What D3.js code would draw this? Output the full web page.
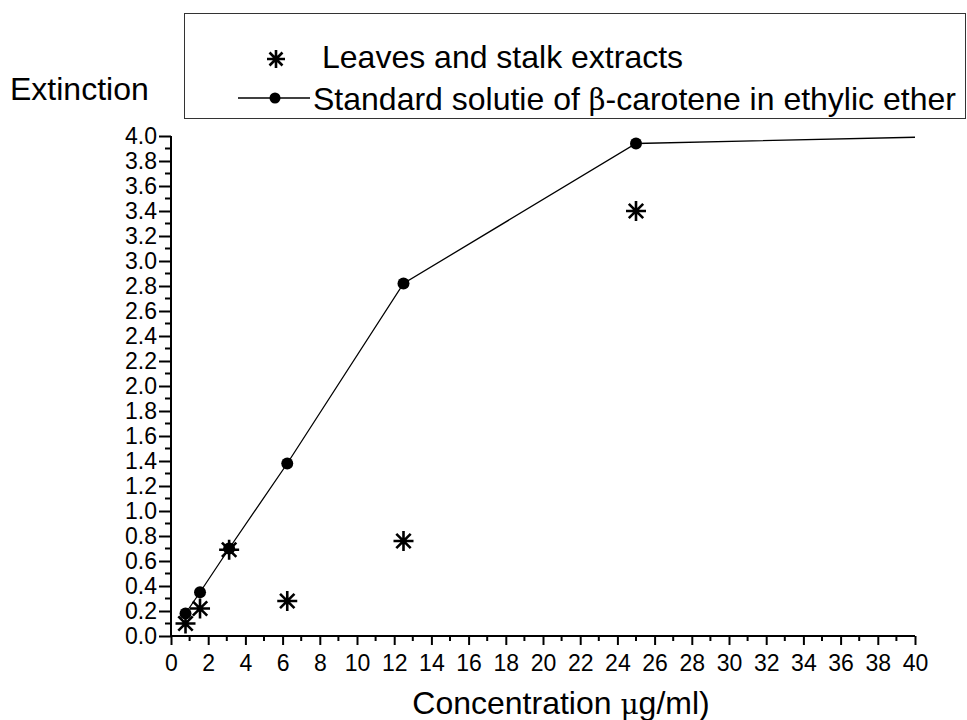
<!DOCTYPE html>
<html>
<head>
<meta charset="utf-8">
<script src="https://cdn.jsdelivr.net/npm/d3@7"></script>
<style>
  body { margin: 0; background: #fff; }
  svg { display: block; font-family: "Liberation Sans", Arial, sans-serif; }
</style>
</head>
<body>
<div class="chart-container"></div>
<script>
// standard solution of beta-carotene (line + dots)
var stdConc = [0.78, 1.56, 3.125, 6.25, 12.5, 25, 40];
var stdExt = [0.18, 0.35, 0.70, 1.38, 2.82, 3.94, 3.99];
var stdMarked = [true, true, true, true, true, true, false];

// leaves and stalk extracts (stars)
var leafConc = [0.78, 1.56, 3.125, 6.25, 12.5, 25];
var leafExt = [0.10, 0.22, 0.69, 0.28, 0.76, 3.40];

var xTicks = d3.range(0, 41, 2);
var yTicks = d3.range(0, 4.01, 0.2);

var legendLabels = ["Leaves and stalk extracts", "Standard solutie of \u03B2-carotene in ethylic ether"];

var width = 967, height = 720;
var margin = {top: 136, right: 52, bottom: 84, left: 171};

var svg = d3.select('.chart-container').append("svg")
    .attr("width", width)
    .attr("height", height);

var x = d3.scaleLinear().domain([0, 40]).range([margin.left, width - margin.right]);
var y = d3.scaleLinear().domain([0, 4]).range([height - margin.bottom, margin.top]);

// star marker: vertical, horizontal and two diagonals
function star(g, cx, cy, r) {
  var d = r * 0.72;
  var p = "M" + cx + "," + (cy - r) + "V" + (cy + r) +
          "M" + (cx - r) + "," + cy + "H" + (cx + r) +
          "M" + (cx - d) + "," + (cy - d) + "L" + (cx + d) + "," + (cy + d) +
          "M" + (cx - d) + "," + (cy + d) + "L" + (cx + d) + "," + (cy - d);
  g.append("path").attr("d", p).attr("stroke", "#000").attr("stroke-width", 2.6).attr("fill", "none");
}

// x axis
var xAxis = svg.append("g")
    .attr("transform", "translate(0," + y(0) + ")")
    .call(d3.axisBottom(x).tickValues(xTicks).tickSize(9).tickPadding(10).tickFormat(d3.format("d")));
xAxis.select(".domain").attr("stroke-width", 2).attr("d", "M" + x(0) + ",0H" + x(40));
xAxis.selectAll(".tick line").attr("stroke-width", 2);
xAxis.selectAll("text").attr("font-size", 23).attr("font-family", "Liberation Sans, Arial, sans-serif");
// minor x ticks
svg.append("g").selectAll("line")
    .data(d3.range(1, 40, 2))
    .enter().append("line")
    .attr("x1", function (d) { return x(d); })
    .attr("x2", function (d) { return x(d); })
    .attr("y1", y(0))
    .attr("y2", y(0) + 5)
    .attr("stroke", "#000")
    .attr("stroke-width", 2);

// y axis
var yAxis = svg.append("g")
    .attr("transform", "translate(" + x(0) + ",0)")
    .call(d3.axisLeft(y).tickValues(yTicks).tickSize(12).tickPadding(2).tickFormat(d3.format(".1f")));
yAxis.select(".domain").attr("stroke-width", 2).attr("d", "M0," + y(0) + "V" + y(4));
yAxis.selectAll(".tick line").attr("stroke-width", 2);
yAxis.selectAll("text").attr("font-size", 23).attr("font-family", "Liberation Sans, Arial, sans-serif");
svg.append("g").selectAll("line")
    .data(d3.range(0.1, 4, 0.2))
    .enter().append("line")
    .attr("x1", x(0) - 6)
    .attr("x2", x(0))
    .attr("y1", function (d) { return y(d); })
    .attr("y2", function (d) { return y(d); })
    .attr("stroke", "#000")
    .attr("stroke-width", 2);

// axis titles
svg.append("text")
    .attr("x", 10).attr("y", 100)
    .attr("font-size", 32)
    .text("Extinction");

var xt = svg.append("text")
    .attr("x", 561).attr("y", 714)
    .attr("text-anchor", "middle")
    .attr("font-size", 32);
xt.append("tspan").text("Concentration  ");
xt.append("tspan").attr("font-family", "DejaVu Serif, serif").attr("font-size", 28).text("\u03BC");
xt.append("tspan").text("g/ml)");

// standard line
var stdData = stdConc.map(function (c, i) { return {c: c, e: stdExt[i], m: stdMarked[i]}; });
var line = d3.line()
    .x(function (d) { return x(d.c); })
    .y(function (d) { return y(d.e); });

svg.append("path")
    .datum(stdData)
    .attr("d", line)
    .attr("fill", "none")
    .attr("stroke", "#000")
    .attr("stroke-width", 1.3);

svg.selectAll(".dot")
    .data(stdData.filter(function (d) { return d.m; }))
    .enter().append("circle")
    .attr("class", "dot")
    .attr("cx", function (d) { return x(d.c); })
    .attr("cy", function (d) { return y(d.e); })
    .attr("r", 6)
    .attr("fill", "#000");

// extract stars
var stars = svg.append("g");
leafConc.forEach(function (c, i) {
  star(stars, x(c), y(leafExt[i]), 10);
});

// legend
var lg = svg.append("g");
lg.append("rect")
    .attr("x", 184.5).attr("y", 13.5)
    .attr("width", 781).attr("height", 105)
    .attr("fill", "#fff")
    .attr("stroke", "#333")
    .attr("stroke-width", 1);
star(lg, 276, 59, 9);
lg.append("line").attr("x1", 238).attr("x2", 310).attr("y1", 98).attr("y2", 98)
    .attr("stroke", "#000").attr("stroke-width", 1.3);
lg.append("circle").attr("cx", 275).attr("cy", 98).attr("r", 5.5).attr("fill", "#000");

lg.append("text").attr("x", 322).attr("y", 68).attr("font-size", 32).text(legendLabels[0]);
var l2 = lg.append("text").attr("x", 313).attr("y", 110).attr("font-size", 32);
var parts = legendLabels[1].split("\u03B2");
l2.append("tspan").text(parts[0]);
l2.append("tspan").attr("font-family", "DejaVu Serif, serif").attr("font-size", 29).text("\u03B2");
l2.append("tspan").text(parts[1]);
</script>
</body>
</html>
